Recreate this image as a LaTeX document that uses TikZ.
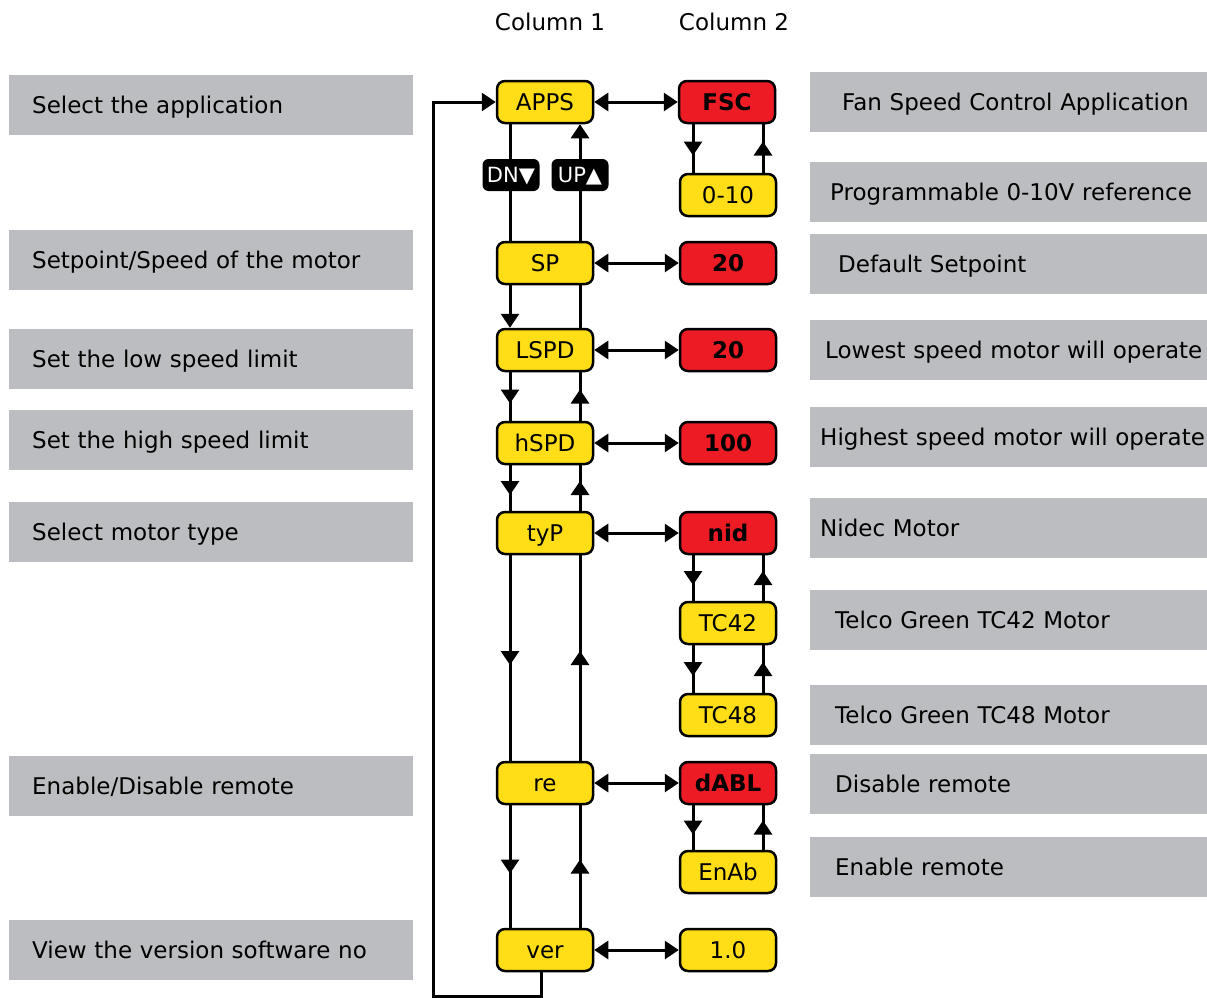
\documentclass[tikz,border=0pt]{standalone}
\usepackage{fontspec}
\setmainfont{DejaVu Sans}
\usetikzlibrary{arrows.meta,decorations.markings}
\definecolor{boxyellow}{HTML}{FFDD17}
\definecolor{boxred}{HTML}{ED1C24}
\definecolor{boxgray}{HTML}{BCBDC0}
\begin{document}
\begin{tikzpicture}[x=1pt,y=-1pt,
  font=\fontsize{23}{27}\selectfont,
  every node/.style={text height=16.8pt, text depth=0pt},
  tri/.tip={Triangle[width=18pt,length=14pt]},
  conn/.style={line width=3pt},
  midarrow/.style={decoration={markings, mark=at position 0.5 with {\arrow[xshift=7pt]{tri}}}, postaction={decorate}},
  ybox/.style={draw, line width=2.5pt, fill=boxyellow, rounded corners=8pt, minimum width=96pt, minimum height=42pt, inner sep=0pt},
  rbox/.style={ybox, fill=boxred, font=\fontsize{23}{27}\selectfont\bfseries},
  badge/.style={fill=black, text=white, rounded corners=6pt, minimum width=57pt, minimum height=32pt, inner sep=0pt, font=\fontsize{21}{24}\selectfont, text height=15pt, text depth=0pt},
  lgray/.style={fill=boxgray, anchor=west, minimum height=60pt, inner ysep=0pt, inner xsep=23pt, text width=358pt, align=left},
  rgray/.style={fill=boxgray, anchor=west, minimum height=60pt, inner ysep=0pt, align=left}
]
\useasboundingbox (0,0) rectangle (1207,998);

% headers
\node (h1) at (550,22) {Column 1};
\node (h2) at (734,22) {Column 2};

% left descriptions
\node[lgray] (l1) at (9,105) {\mbox{Select the application}};
\node[lgray] (l2) at (9,260) {\mbox{Setpoint/Speed of the motor}};
\node[lgray] (l3) at (9,359) {\mbox{Set the low speed limit}};
\node[lgray] (l4) at (9,440) {\mbox{Set the high speed limit}};
\node[lgray] (l5) at (9,532) {\mbox{Select motor type}};
\node[lgray] (l6) at (9,786) {\mbox{Enable/Disable remote}};
\node[lgray] (l7) at (9,950) {\mbox{View the version software no}};

% right descriptions
\node[rgray, inner xsep=32pt, text width=333pt] (r1) at (810,102) {\mbox{Fan Speed Control Application}};
\node[rgray, inner xsep=20pt, text width=357pt] (r2) at (810,192) {\mbox{Programmable 0-10V reference}};
\node[rgray, inner xsep=28pt, text width=341pt] (r3) at (810,264) {\mbox{Default Setpoint}};
\node[rgray, inner xsep=15pt, text width=367pt] (r4) at (810,350) {\mbox{Lowest speed motor will operate}};
\node[rgray, inner xsep=10pt, text width=377pt] (r5) at (810,437) {\mbox{Highest speed motor will operate}};
\node[rgray, inner xsep=10pt, text width=377pt] (r6) at (810,528) {\mbox{Nidec Motor}};
\node[rgray, inner xsep=25pt, text width=347pt] (r7) at (810,620) {\mbox{Telco Green TC42 Motor}};
\node[rgray, inner xsep=25pt, text width=347pt] (r8) at (810,715) {\mbox{Telco Green TC48 Motor}};
\node[rgray, inner xsep=25pt, text width=347pt] (r9) at (810,784) {\mbox{Disable remote}};
\node[rgray, inner xsep=25pt, text width=347pt] (r10) at (810,867) {\mbox{Enable remote}};

% column 1
\node[ybox] (APPS) at (545,102) {APPS};
\node[ybox] (SP) at (545,263) {SP};
\node[ybox] (LSPD) at (545,350) {LSPD};
\node[ybox] (hSPD) at (545,443) {hSPD};
\node[ybox] (tyP) at (545,533) {tyP};
\node[ybox] (re) at (545,783) {re};
\node[ybox] (ver) at (545,950) {ver};

% column 2
\node[rbox] (FSC) at (727,102) {FSC};
\node[ybox] (z10) at (728,195) {0-10};
\node[rbox] (sp20) at (728,263) {20};
\node[rbox] (ls20) at (728,350) {20};
\node[rbox] (hs100) at (728,443) {100};
\node[rbox] (nid) at (728,533) {nid};
\node[ybox] (tc42) at (728,623) {TC42};
\node[ybox] (tc48) at (728,715) {TC48};
\node[rbox] (dABL) at (728,783) {dABL};
\node[ybox] (EnAb) at (728,872) {EnAb};
\node[ybox] (v10) at (728,950) {1.0};

\coordinate (L) at (510,0);
\coordinate (R) at (580,0);
\coordinate (CL) at (693,0);
\coordinate (CR) at (763,0);
\coordinate (loopbl) at (433,996.5);

% column 1 vertical connectors
\draw[conn] (APPS.south -| L) -- (SP.north -| L);
\draw[conn,-tri] (SP.north -| R) -- (APPS.south -| R);
\draw[conn,-tri] (SP.south -| L) -- (LSPD.north -| L);
\draw[conn] (LSPD.north -| R) -- (SP.south -| R);
\draw[conn,midarrow] (LSPD.south -| L) -- (hSPD.north -| L);
\draw[conn,midarrow] (hSPD.north -| R) -- (LSPD.south -| R);
\draw[conn,midarrow] (hSPD.south -| L) -- (tyP.north -| L);
\draw[conn,midarrow] (tyP.north -| R) -- (hSPD.south -| R);
\draw[conn,midarrow] (tyP.south -| L) -- (re.north -| L);
\draw[conn,midarrow] (re.north -| R) -- (tyP.south -| R);
\draw[conn,midarrow] (re.south -| L) -- (ver.north -| L);
\draw[conn,midarrow] (ver.north -| R) -- (re.south -| R);

% column 2 vertical connectors
\draw[conn,midarrow] (FSC.south -| CL) -- (z10.north -| CL);
\draw[conn,midarrow] (z10.north -| CR) -- (FSC.south -| CR);
\draw[conn,midarrow] (nid.south -| CL) -- (tc42.north -| CL);
\draw[conn,midarrow] (tc42.north -| CR) -- (nid.south -| CR);
\draw[conn,midarrow] (tc42.south -| CL) -- (tc48.north -| CL);
\draw[conn,midarrow] (tc48.north -| CR) -- (tc42.south -| CR);
\draw[conn,midarrow] (dABL.south -| CL) -- (EnAb.north -| CL);
\draw[conn,midarrow] (EnAb.north -| CR) -- (dABL.south -| CR);

% horizontal connectors
\draw[conn,tri-tri] (APPS) -- (FSC);
\draw[conn,tri-tri] (SP) -- (sp20);
\draw[conn,tri-tri] (LSPD) -- (ls20);
\draw[conn,tri-tri] (hSPD) -- (hs100);
\draw[conn,tri-tri] (tyP) -- (nid);
\draw[conn,tri-tri] (re) -- (dABL);
\draw[conn,tri-tri] (ver) -- (v10);

% return loop
\draw[conn,-tri] ([xshift=-4pt]ver.south) |- (loopbl) |- (APPS.west);

% badges
\node[badge] (dn) at (511,175) {DN▼};
\node[badge] (up) at (580,175) {UP▲};
\end{tikzpicture}
\end{document}
